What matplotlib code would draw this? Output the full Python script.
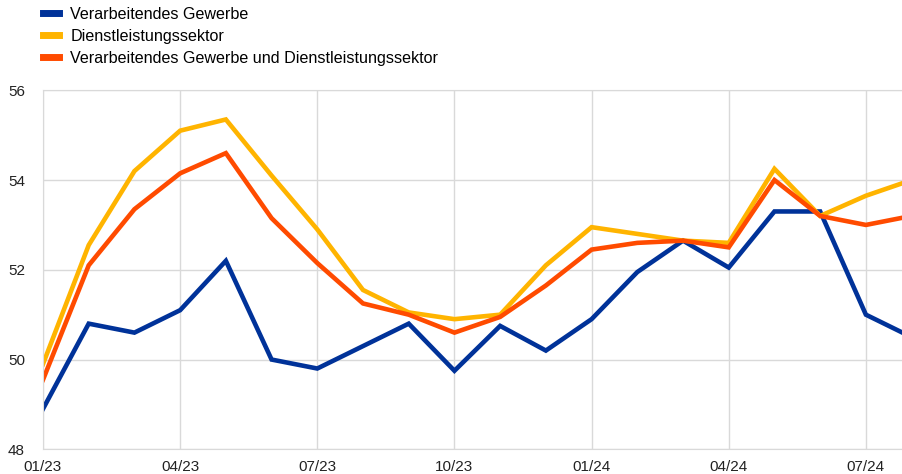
import matplotlib.pyplot as plt

# Datos mensuales 01/23 - 08/24
meses = ['01/23', '02/23', '03/23', '04/23', '05/23', '06/23', '07/23', '08/23', '09/23', '10/23',
         '11/23', '12/23', '01/24', '02/24', '03/24', '04/24', '05/24', '06/24', '07/24', '08/24']
gewerbe = [48.9, 50.8, 50.6, 51.1, 52.2, 50.0, 49.8, 50.3, 50.8, 49.75,
           50.75, 50.2, 50.9, 51.95, 52.65, 52.05, 53.3, 53.3, 51.0, 50.5]
dienst = [49.9, 52.55, 54.2, 55.1, 55.35, 54.1, 52.9, 51.55, 51.05, 50.9,
          51.0, 52.1, 52.95, 52.8, 52.65, 52.6, 54.25, 53.2, 53.65, 54.0]
gesamt = [49.55, 52.1, 53.35, 54.15, 54.6, 53.15, 52.15, 51.25, 51.0, 50.6,
          50.95, 51.65, 52.45, 52.6, 52.65, 52.5, 54.0, 53.2, 53.0, 53.2]
etiquetas = ['Verarbeitendes Gewerbe', 'Dienstleistungssektor',
             'Verarbeitendes Gewerbe und Dienstleistungssektor']
colores = ['#003299', '#ffb400', '#ff4b00']

plt.rcParams['font.family'] = ['Liberation Sans', 'DejaVu Sans']

fig = plt.figure(figsize=(9.02, 4.74), dpi=100)
ax = fig.add_axes([43 / 902, 1 - 449.3 / 474, 1 - 43 / 902, (449.3 - 90.3) / 474])

x = list(range(len(meses)))
for serie, etiqueta, color in zip([gewerbe, dienst, gesamt], etiquetas, colores):
    ax.plot(x, serie, color=color, linewidth=3.3, label=etiqueta, solid_joinstyle='miter')

ax.set_xlim(0, 18.79)
ax.set_ylim(48, 56)
ax.set_yticks([48, 50, 52, 54, 56])
ax.set_xticks(x[::3])
ax.set_xticklabels(meses[::3])
ax.tick_params(length=0, labelsize=11, colors='#222222')
ax.tick_params(axis='x', pad=8)
ax.tick_params(axis='y', pad=13)
ax.grid(True, color='#d9d9d9', linewidth=1)
ax.set_axisbelow(True)
for lado in ['left', 'bottom', 'top']:
    ax.spines[lado].set_color('#d9d9d9')
ax.spines['right'].set_visible(False)

fig.legend(loc='upper left', bbox_to_anchor=(43 / 902, 1 - 7 / 474), frameon=False,
           fontsize=11.6, handlelength=1.0, handletextpad=0.7, labelspacing=0.42,
           borderpad=0, borderaxespad=0)
for linea in fig.legends[0].get_lines():
    linea.set_linewidth(5)

fig.savefig('out.png', dpi=100)
